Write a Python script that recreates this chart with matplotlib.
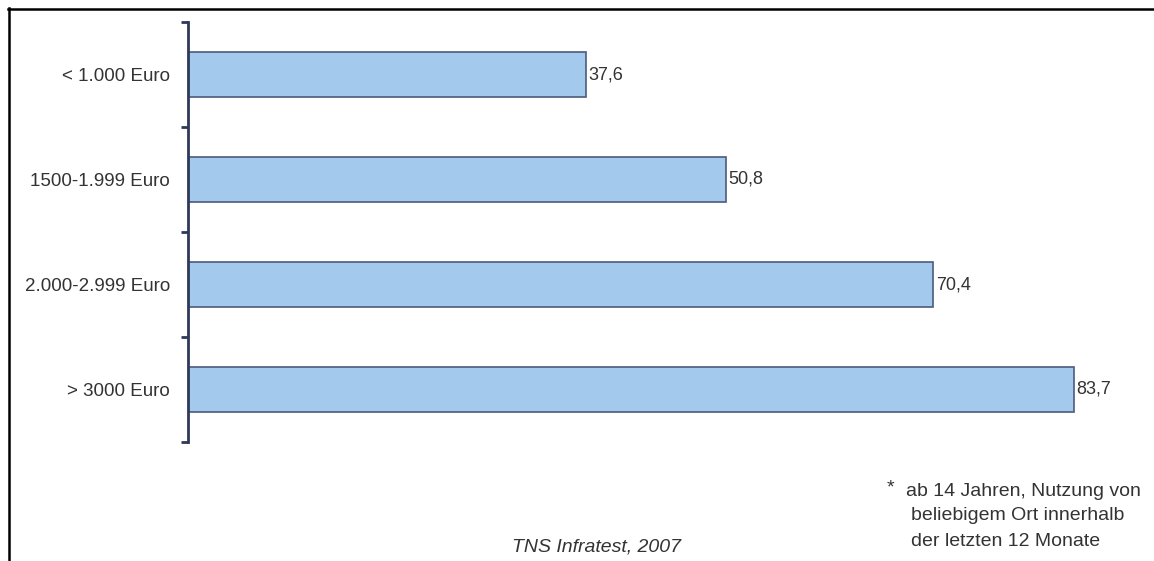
import matplotlib as mpl
mpl.use("Agg")
import matplotlib.pyplot as plt
from matplotlib.lines import Line2D

categories = ["< 1.000 Euro", "1500-1.999 Euro", "2.000-2.999 Euro", "> 3000 Euro"]
values = [37.6, 50.8, 70.4, 83.7]
value_labels = ["37,6", "50,8", "70,4", "83,7"]
footnote = ["ab 14 Jahren, Nutzung von", "beliebigem Ort innerhalb", "der letzten 12 Monate"]
source = "TNS Infratest, 2007"

BAR_COLOR = "#a3c9ec"
EDGE_COLOR = "#4d5b7c"
AXIS_COLOR = "#2e3858"
TEXT_COLOR = "#333333"

plt.rcParams["font.family"] = ["Liberation Sans", "DejaVu Sans"]

W, H = 1154, 561
fig = plt.figure(figsize=(W / 100, H / 100), dpi=100)
fig.patch.set_facecolor("white")
ax = fig.add_axes([188 / W, (H - 442) / H, 952.6 / W, 420 / H])

y = range(len(categories))
ax.barh(y, values, height=0.42, color=BAR_COLOR, edgecolor=EDGE_COLOR, linewidth=1.2, zorder=2)
for yi, v, lab in zip(y, values, value_labels):
    ax.text(v + 0.25, yi, lab, va="center", ha="left", fontsize=13, color=TEXT_COLOR)

ax.set_xlim(0, 90)
ax.set_ylim(3.5, -0.5)
ax.set_yticks([i - 0.5 for i in range(len(categories) + 1)], minor=False)
ax.set_yticklabels([])
ax.set_yticks(list(y), minor=True)
ax.set_yticklabels(categories, minor=True, fontsize=13.5, color=TEXT_COLOR)
ax.tick_params(axis="y", which="major", length=5, width=2, color=AXIS_COLOR, direction="out")
ax.tick_params(axis="y", which="minor", length=0, pad=13)
ax.set_xticks([])
for s in ["top", "right", "bottom"]:
    ax.spines[s].set_visible(False)
ax.spines["left"].set_color(AXIS_COLOR)
ax.spines["left"].set_linewidth(2)
ax.set_facecolor("none")

# outer frame (left and top only)
fig.add_artist(Line2D([8.5 / W, 8.5 / W], [0, (H - 8) / H], color="black", lw=1.8, transform=fig.transFigure))
fig.add_artist(Line2D([8 / W, 1], [(H - 8.5) / H, (H - 8.5) / H], color="black", lw=1.8, transform=fig.transFigure))

fig.text(887 / W, (H - 488) / H, "*", ha="left", va="center", fontsize=14, color=TEXT_COLOR)
for i, line in enumerate(footnote):
    x0 = 906 if i == 0 else 911
    fig.text(x0 / W, (H - 491 - 25 * i) / H, line, ha="left", va="center", fontsize=14, color=TEXT_COLOR)
fig.text(597 / W, (H - 547) / H, source, ha="center", va="center", fontsize=14, style="italic", color=TEXT_COLOR)

fig.savefig("out.png", dpi=100, facecolor="white")
